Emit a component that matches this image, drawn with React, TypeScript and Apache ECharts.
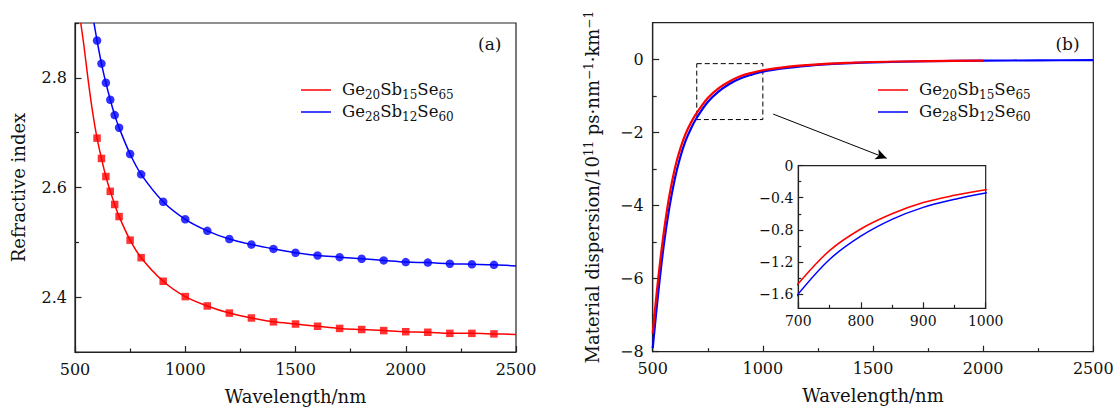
import React, { useEffect, useRef } from 'react';
import * as echarts from 'echarts';

// ---------- Panel (a): refractive index ----------
const measuredWl = [600, 620, 640, 660, 680, 700, 750, 800, 900, 1000, 1100, 1200, 1300, 1400, 1500, 1600, 1700, 1800, 1900, 2000, 2100, 2200, 2300, 2400];
const redIndex = [2.690, 2.653, 2.620, 2.593, 2.569, 2.547, 2.504, 2.472, 2.429, 2.401, 2.384, 2.371, 2.362, 2.355, 2.351, 2.347, 2.343, 2.341, 2.339, 2.337, 2.336, 2.334, 2.334, 2.333];
const blueIndex = [2.868, 2.826, 2.791, 2.760, 2.732, 2.709, 2.661, 2.624, 2.574, 2.542, 2.521, 2.506, 2.496, 2.488, 2.481, 2.476, 2.473, 2.470, 2.467, 2.464, 2.463, 2.461, 2.460, 2.459];
const redFitHeadWl = [526, 540, 560, 580];
const redFitHead = [2.90, 2.86, 2.795, 2.737];
const blueFitHeadWl = [586];
const blueFitHead = [2.90];
const fitTailWl = [2500];
const redFitTail = [2.332];
const blueFitTail = [2.457];

// ---------- Panel (b): material dispersion ----------
const dispWlRed = [500, 525, 550, 575, 600, 625, 650, 675, 700, 750, 800, 850, 900, 950, 1000, 1100, 1200, 1300, 1400, 1500, 1750, 2000];
const dispRed = [-7.5, -6.0, -4.75, -3.75, -3.0, -2.45, -2.03, -1.72, -1.47, -1.06, -0.79, -0.60, -0.46, -0.37, -0.30, -0.215, -0.16, -0.12, -0.095, -0.075, -0.05, -0.035];
const dispWlBlue = [500, 525, 550, 575, 600, 625, 650, 675, 700, 750, 800, 850, 900, 950, 1000, 1100, 1200, 1300, 1400, 1500, 1750, 2000, 2250, 2500];
const dispBlue = [-7.9, -6.4, -5.1, -4.08, -3.28, -2.68, -2.22, -1.88, -1.60, -1.17, -0.88, -0.67, -0.52, -0.42, -0.34, -0.245, -0.18, -0.135, -0.105, -0.085, -0.055, -0.04, -0.03, -0.025];

const nameRed = 'Ge20Sb15Se65';
const nameBlue = 'Ge28Sb12Se60';

const indexMajor = [2.4, 2.6, 2.8];
const indexMinor = [2.3, 2.5, 2.7, 2.9];
const dispMajor = [-8, -6, -4, -2, 0];
const dispMinor = [-7, -5, -3, -1];
const insetMajor = [0, -0.4, -0.8, -1.2, -1.6];
const insetMinor = [-0.2, -0.6, -1.0, -1.4];

const zoomBox = [[700, -0.12], [1000, -1.65]];
const arrowLine = [[1047, -1.5], [1562, -2.71]];

const RED = '#ff0000';
const BLUE = '#0000ff';
const FONT = 'DejaVu Serif';
const INK = '#111';
const AX = '#222';

const pairs = (xs: number[], ys: number[]) => xs.map((x, i) => [x, ys[i]]);
const minusFmt = (v: number) => (v < 0 ? '\u2212' + String(Math.abs(v)) : String(v));
const plainFmt = (v: number) => String(v);
const subRich = (name: string) => name.replace(/([A-Za-z]+)(\d+)/g, '{m|$1}{s|$2}');

const axisLineStyle = { color: AX, width: 1.2 };

function xAxisCfg(gridIndex: number, min: number, max: number, interval: number, labelSize: number, withName: boolean) {
  return {
    type: 'value', gridIndex, min, max, interval,
    axisLine: { show: true, onZero: false, lineStyle: axisLineStyle },
    axisTick: { show: true, inside: true, length: 6, lineStyle: axisLineStyle },
    minorTick: { show: true, splitNumber: 2, length: 3.5, lineStyle: axisLineStyle },
    axisLabel: { fontFamily: FONT, fontSize: labelSize, color: INK, margin: withName ? 9 : 6, formatter: plainFmt },
    splitLine: { show: false },
    minorSplitLine: { show: false },
    name: withName ? 'Wavelength/nm' : '',
    nameLocation: 'middle', nameGap: 35,
    nameTextStyle: { fontFamily: FONT, fontSize: 18, color: INK },
  };
}

function yAxisMain(gridIndex: number, min: number, max: number, major: number[], labelSize: number, fmt: (v: number) => string, name: string, nameGap: number, margin: number, tickLen: number) {
  return {
    type: 'value', gridIndex, min, max, position: 'left',
    axisLine: { show: true, onZero: false, lineStyle: axisLineStyle },
    axisTick: { show: true, inside: true, length: tickLen, lineStyle: axisLineStyle, customValues: major },
    axisLabel: { fontFamily: FONT, fontSize: labelSize, color: INK, margin, customValues: major, formatter: fmt },
    splitLine: { show: false },
    name, nameLocation: 'middle', nameGap,
    nameTextStyle: {
      fontFamily: FONT, fontSize: 18, color: INK, lineHeight: 20,
      rich: { sup: { fontFamily: FONT, fontSize: 12, lineHeight: 12, verticalAlign: 'top', color: INK } },
    },
  };
}

function yAxisMinor(gridIndex: number, min: number, max: number, minor: number[], tickLen: number) {
  return {
    type: 'value', gridIndex, min, max, position: 'left', offset: 0,
    axisLine: { show: false, onZero: false },
    axisTick: { show: true, inside: true, length: tickLen, lineStyle: axisLineStyle, customValues: minor },
    axisLabel: { show: false },
    splitLine: { show: false },
  };
}

function legendCfg(left: number) {
  return {
    orient: 'vertical', left, top: 76, icon: 'rect', itemWidth: 30, itemHeight: 1.5, itemGap: 2,
    data: [nameRed, nameBlue],
    formatter: (n: string) => subRich(n),
    textStyle: {
      fontFamily: FONT, color: INK, padding: [0, 0, 0, 6],
      rich: {
        m: { fontFamily: FONT, fontSize: 16.5, lineHeight: 18, verticalAlign: 'top', color: INK },
        s: { fontFamily: FONT, fontSize: 12, lineHeight: 12, padding: [8, 0, 0, 0], verticalAlign: 'top', color: INK },
      },
    },
    selectedMode: false,
  };
}

const lineSeries = (name: string, data: number[][], color: string, xi: number, yi: number, width: number) => ({
  name, type: 'line', xAxisIndex: xi, yAxisIndex: yi, data, smooth: 0.35,
  showSymbol: false, symbol: 'none', lineStyle: { color, width }, itemStyle: { color }, clip: true, z: 3,
});

function buildOption() {
  const redFit = pairs([...redFitHeadWl, ...measuredWl, ...fitTailWl], [...redFitHead, ...redIndex, ...redFitTail]);
  const blueFit = pairs([...blueFitHeadWl, ...measuredWl, ...fitTailWl], [...blueFitHead, ...blueIndex, ...blueFitTail]);
  const redD = pairs(dispWlRed, dispRed);
  const blueD = pairs(dispWlBlue, dispBlue);

  return {
    animation: false,
    backgroundColor: '#fff',
    grid: [
      { left: 75, top: 23, width: 441, height: 329, show: true, borderColor: AX, borderWidth: 1.2, backgroundColor: 'transparent' },
      { left: 652.7, top: 22.7, width: 440.6, height: 329, show: true, borderColor: AX, borderWidth: 1.2, backgroundColor: 'transparent' },
      { left: 798.3, top: 165.7, width: 187.4, height: 142.6, show: true, borderColor: AX, borderWidth: 1.2, backgroundColor: '#fff' },
    ],
    xAxis: [
      xAxisCfg(0, 500, 2500, 500, 16, true),
      xAxisCfg(1, 500, 2500, 500, 16, true),
      xAxisCfg(2, 700, 1000, 100, 14, false),
    ],
    yAxis: [
      yAxisMain(0, 2.3, 2.9, indexMajor, 16, (v: number) => v.toFixed(1), 'Refractive index', 47, 8, 6.5),
      yAxisMinor(0, 2.3, 2.9, indexMinor, 4),
      yAxisMain(1, -8, 1, dispMajor, 16, minusFmt, 'Material dispersion/10{sup|11} ps\u00b7nm{sup|\u22121}\u00b7km{sup|\u22121}', 50, 9, 6.5),
      yAxisMinor(1, -8, 1, dispMinor, 4),
      yAxisMain(2, -1.78, 0, insetMajor, 14, minusFmt, '', 0, 5, 5),
      yAxisMinor(2, -1.78, 0, insetMinor, 3),
    ],
    legend: [legendCfg(296), legendCfg(873)],
    graphic: [
      { type: 'text', x: 489.7, y: 44, style: { text: '(a)', font: '17px "DejaVu Serif"', fill: INK, align: 'center', verticalAlign: 'middle', textAlign: 'center', textVerticalAlign: 'middle' } },
      { type: 'text', x: 1067.5, y: 44, style: { text: '(b)', font: '17px "DejaVu Serif"', fill: INK, align: 'center', verticalAlign: 'middle', textAlign: 'center', textVerticalAlign: 'middle' } },
    ],
    series: [
      lineSeries(nameRed, redFit, RED, 0, 0, 1.5),
      lineSeries(nameBlue, blueFit, BLUE, 0, 0, 1.5),
      {
        name: nameRed + ' measured', type: 'scatter', xAxisIndex: 0, yAxisIndex: 0,
        data: pairs(measuredWl, redIndex), symbol: 'rect', symbolSize: 7.5, itemStyle: { color: RED }, z: 4,
      },
      {
        name: nameBlue + ' measured', type: 'scatter', xAxisIndex: 0, yAxisIndex: 0,
        data: pairs(measuredWl, blueIndex), symbol: 'circle', symbolSize: 8.5, itemStyle: { color: BLUE }, z: 4,
      },
      {
        ...lineSeries(nameRed, redD, RED, 1, 2, 2.2),
        markArea: {
          silent: true,
          itemStyle: { color: 'rgba(0,0,0,0)', borderColor: '#000', borderWidth: 1, borderType: [5, 3] },
          label: { show: false },
          data: [[{ coord: zoomBox[0] }, { coord: zoomBox[1] }]],
        },
      },
      {
        ...lineSeries(nameBlue, blueD, BLUE, 1, 2, 2.2),
        z: 2,
        markLine: {
          silent: true, symbol: ['none', 'arrow'], symbolSize: [8, 11],
          lineStyle: { color: '#000', width: 1, type: 'solid' },
          label: { show: false },
          data: [[{ coord: arrowLine[0] }, { coord: arrowLine[1] }]],
        },
      },
      lineSeries(nameRed, redD, RED, 2, 4, 1.5),
      lineSeries(nameBlue, blueD, BLUE, 2, 4, 1.5),
    ],
  };
}

export default function App() {
  const ref = useRef<HTMLDivElement>(null);
  useEffect(() => {
    if (!ref.current) return;
    const chart = echarts.init(ref.current, null, { renderer: 'svg' });
    chart.setOption(buildOption() as any);
    return () => chart.dispose();
  }, []);
  return (
    <div
      ref={ref}
      style={{ position: 'absolute', left: 0, top: 0, width: 1119, height: 410, background: '#fff' }}
    />
  );
}
